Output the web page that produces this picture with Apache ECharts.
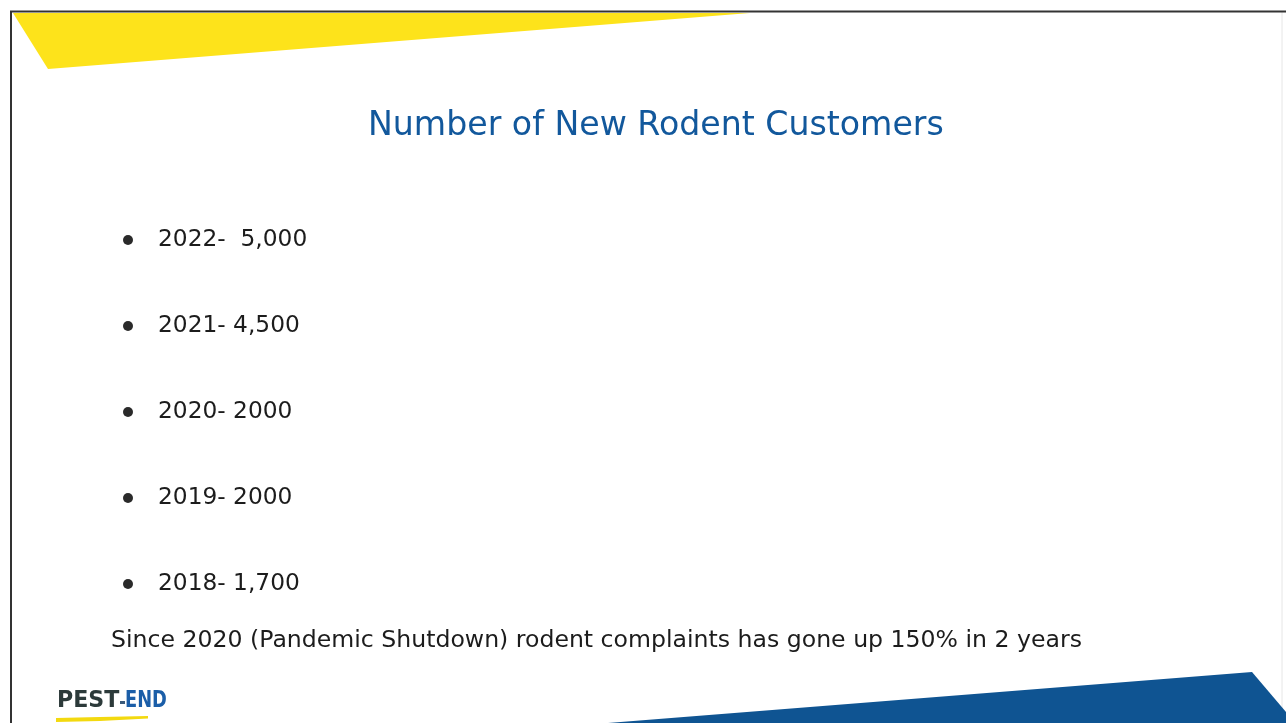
<!DOCTYPE html>
<html>
<head>
<meta charset="utf-8">
<script src="https://cdn.jsdelivr.net/npm/echarts@6/dist/echarts.min.js"></script>
<style>
html,body{margin:0;padding:0;background:#fff;}
#chart{width:1286px;height:723px;}
</style>
</head>
<body>
<div id="chart"></div>
<script>
// Data
var years = ['2022', '2021', '2020', '2019', '2018'];
var customers = [5000, 4500, 2000, 2000, 1700];
var customerLabels = [' 5,000', '4,500', '2000', '2000', '1,700'];
var titleText = 'Number of New Rodent Customers';
var noteText = 'Since 2020 (Pandemic Shutdown) rodent complaints has gone up 150% in 2 years';

var FONT = '"DejaVu Sans", Tahoma, sans-serif';
var LOGO_FONT = 'bold 23px "DejaVu Sans Condensed", "DejaVu Sans", sans-serif';

var chart = echarts.init(document.getElementById('chart'), null, {renderer: 'canvas'});

var points = years.map(function (y, i) {
  return {value: [0, y, customers[i]], label: customerLabels[i]};
});

chart.setOption({
  backgroundColor: '#ffffff',
  animation: false,
  title: {
    text: titleText,
    left: 363,
    top: 105,
    textStyle: {color: '#12589c', fontFamily: FONT, fontWeight: 'normal', fontSize: 33.2}
  },
  grid: {left: 128, right: 200, top: 197, height: 430, containLabel: false},
  xAxis: {type: 'value', min: 0, max: 1, show: false},
  yAxis: {type: 'category', data: years, inverse: true, show: false},
  series: [{
    type: 'scatter',
    symbol: 'circle',
    symbolSize: 10,
    itemStyle: {color: '#2a2a2a', opacity: 1},
    emphasis: {disabled: true},
    data: points,
    label: {
      show: true,
      position: 'right',
      distance: 25,
      color: '#1c1c1c',
      fontFamily: FONT,
      fontSize: 23.3,
      formatter: function (p) {
        return p.value[1] + '- ' + p.data.label;
      }
    }
  }],
  graphic: [
    // slide frame
    {type: 'line', shape: {x1: 10, y1: 11.5, x2: 1286, y2: 11.5}, style: {stroke: '#333', lineWidth: 2}, z: 10},
    {type: 'line', shape: {x1: 11, y1: 11, x2: 11, y2: 723}, style: {stroke: '#333', lineWidth: 2}, z: 10},
    {type: 'line', shape: {x1: 1282, y1: 12, x2: 1282, y2: 720}, style: {stroke: '#e6e6e6', lineWidth: 1}, z: 1},
    // yellow top-left wedge
    {type: 'polygon', shape: {points: [[13, 13], [750, 13], [48, 69]]}, style: {fill: '#fde31b'}, z: 5},
    // blue bottom-right wedge
    {type: 'polygon', shape: {points: [[608, 723], [1252, 672], [1286, 712], [1286, 723]]}, style: {fill: '#0f5492'}, z: 5},
    // note text
    {type: 'text', left: 111, top: 629, style: {text: noteText, fill: '#1c1c1c', font: '23.6px ' + FONT}, z: 10},
    // logo
    {type: 'polygon', shape: {points: [[56, 718], [100, 717], [148, 716], [148, 718.5], [100, 721], [56, 722]]}, style: {fill: '#f3d90f'}, z: 9},
    {type: 'text', x: 57, y: 701.5, scaleX: 1.07, scaleY: 1.0, style: {text: 'PEST', fill: '#2c3a3a', font: LOGO_FONT, textVerticalAlign: 'middle'}, z: 10},
    {type: 'rect', shape: {x: 120, y: 701, width: 5, height: 3}, style: {fill: '#3a5a7a'}, z: 10},
    {type: 'text', x: 125, y: 701.5, scaleX: 0.86, scaleY: 1.0, style: {text: 'END', fill: '#1b5ea8', font: LOGO_FONT, textVerticalAlign: 'middle'}, z: 10}
  ]
});
</script>
</body>
</html>
